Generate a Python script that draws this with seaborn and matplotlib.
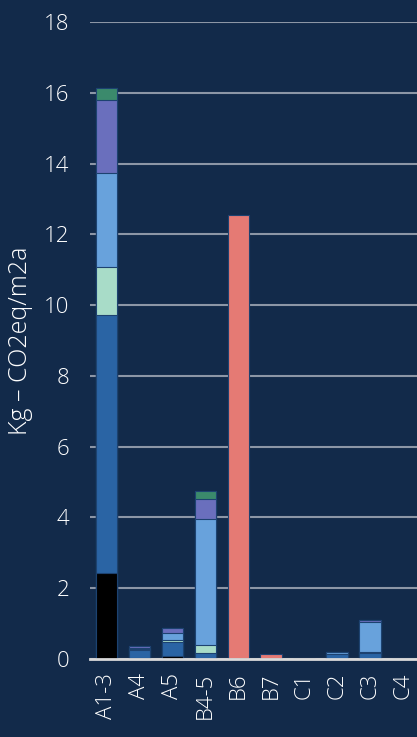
import numpy as np
import pandas as pd
import seaborn as sns
from matplotlib import pyplot as plt

# life cycle stages and stacked contributions (kg CO2eq/m2a)
stages = ["A1-3", "A4", "A5", "B4-5", "B6", "B7", "C1", "C2", "C3", "C4"]
layer_black = [2.43, 0.02, 0.09, 0.0, 0.0, 0.0, 0.0, 0.0, 0.0, 0.0]
layer_darkblue = [7.29, 0.22, 0.38, 0.18, 0.0, 0.0, 0.0, 0.13, 0.17, 0.0]
layer_mint = [1.35, 0.03, 0.07, 0.20, 0.0, 0.0, 0.0, 0.0, 0.03, 0.0]
layer_lightblue = [2.66, 0.05, 0.20, 3.57, 0.0, 0.0, 0.0, 0.06, 0.85, 0.0]
layer_purple = [2.06, 0.04, 0.14, 0.56, 0.0, 0.0, 0.0, 0.0, 0.05, 0.0]
layer_green = [0.34, 0.0, 0.0, 0.23, 0.0, 0.0, 0.0, 0.0, 0.0, 0.0]
layer_salmon = [0.0, 0.0, 0.0, 0.0, 12.54, 0.14, 0.0, 0.0, 0.0, 0.0]

layers = [layer_black, layer_darkblue, layer_mint, layer_lightblue,
          layer_purple, layer_green, layer_salmon]
colors = ["#000000", "#2a64a4", "#a8dcc8", "#68a2dc", "#6a6fbd", "#3b8a6c", "#e57a74"]

bg = "#122a4a"
sns.set_theme(style="white")
plt.rcParams['font.family'] = ['Open Sans', 'DejaVu Sans']
plt.rcParams['font.weight'] = 300

fig, ax = plt.subplots(figsize=(4.17, 7.37), dpi=100)
fig.patch.set_facecolor(bg)
ax.set_facecolor(bg)
fig.subplots_adjust(left=0.216, right=1.0, top=0.970, bottom=0.106)

# cumulative totals, drawn top layer first so lower layers cover them
cum = np.cumsum(np.array(layers), axis=0)
for i in range(len(layers) - 1, -1, -1):
    df = pd.DataFrame({"stage": stages, "value": cum[i]})
    sns.barplot(data=df, x="stage", y="value", color=colors[i], ax=ax,
                width=0.66, edgecolor="#1d4270", linewidth=0.8,
                saturation=1, errorbar=None, zorder=3)

ax.set_ylim(0, 18)
ax.set_xlim(-0.5, 9.42)
ax.set_yticks(range(0, 19, 2))
ax.yaxis.grid(True, color="#8c96a6", linewidth=1.5, zorder=0)
ax.set_axisbelow(True)
for s in ["top", "right", "left"]:
    ax.spines[s].set_visible(False)
ax.spines["bottom"].set_color("#d9d9d9")
ax.spines["bottom"].set_linewidth(2)
ax.spines["bottom"].set_zorder(4)

ax.tick_params(axis="y", colors="white", labelsize=16, length=0, pad=15)
ax.tick_params(axis="x", colors="white", labelsize=16, length=0, pad=10)
plt.setp(ax.get_xticklabels(), rotation=90)
ax.set_xlabel("")
ax.set_ylabel("Kg – CO2eq/m2a", color="white", fontsize=18, fontweight=300)
ax.yaxis.set_label_coords(-0.175, 0.5)

fig.savefig("out.png", dpi=100, facecolor=bg)
